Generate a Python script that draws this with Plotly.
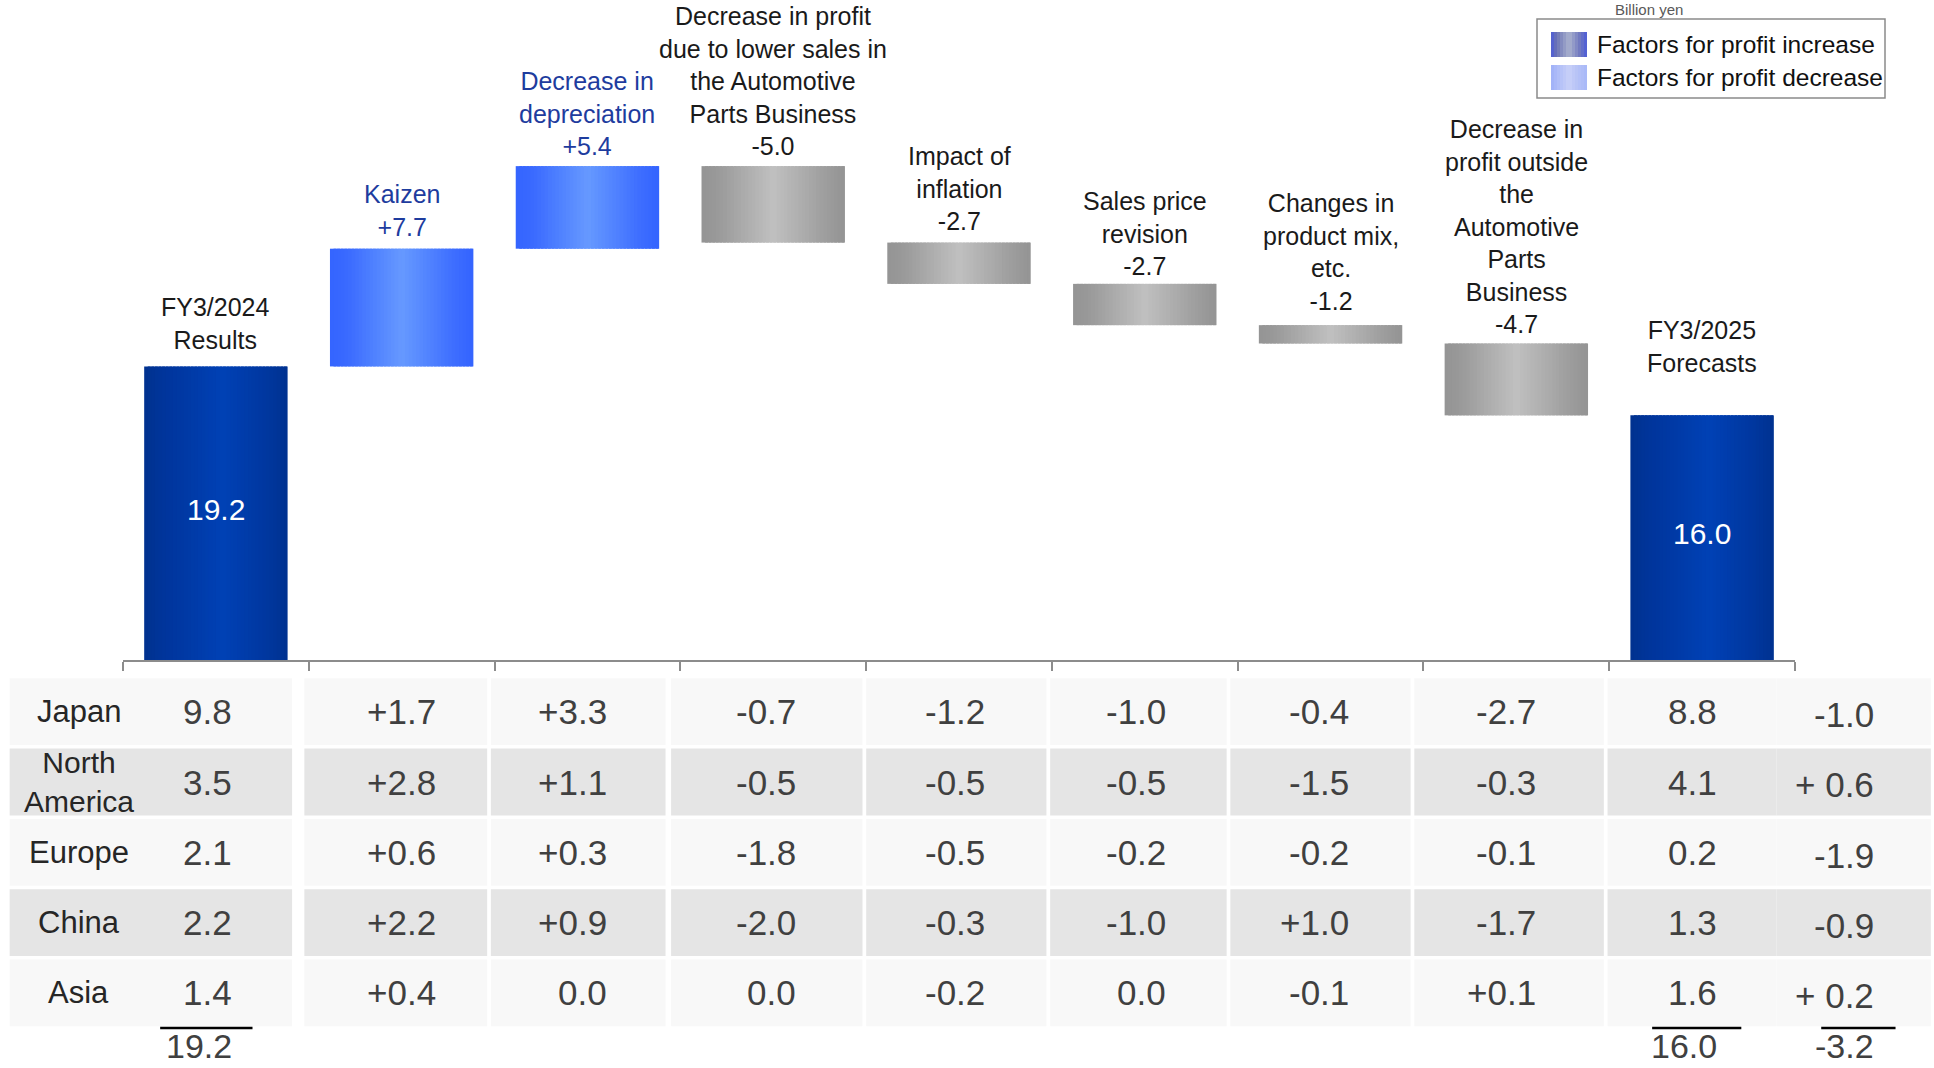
import plotly.graph_objects as go

# ---------------- data ----------------
steps = ["FY3/2024 Results", "Kaizen", "Decrease in depreciation",
         "Decrease in profit due to lower sales in the Automotive Parts Business",
         "Impact of inflation", "Sales price revision", "Changes in product mix, etc.",
         "Decrease in profit outside the Automotive Parts Business", "FY3/2025 Forecasts"]
step_labels = ["FY3/2024<br>Results", "Kaizen", "Decrease in<br>depreciation",
               "Decrease in profit<br>due to lower sales in<br>the Automotive<br>Parts Business",
               "Impact of<br>inflation", "Sales price<br>revision",
               "Changes in<br>product mix,<br>etc.",
               "Decrease in<br>profit outside<br>the<br>Automotive<br>Parts<br>Business",
               "FY3/2025<br>Forecasts"]
step_values = [19.2, 7.7, 5.4, -5.0, -2.7, -2.7, -1.2, -4.7, 16.0]
step_kind = ["total", "increase", "increase", "decrease", "decrease",
             "decrease", "decrease", "decrease", "total"]

regions = ["Japan", "North<br>America", "Europe", "China", "Asia"]
fy2024_by_region = [9.8, 3.5, 2.1, 2.2, 1.4]
kaizen_by_region = [1.7, 2.8, 0.6, 2.2, 0.4]
depreciation_by_region = [3.3, 1.1, 0.3, 0.9, 0.0]
auto_parts_by_region = [-0.7, -0.5, -1.8, -2.0, 0.0]
inflation_by_region = [-1.2, -0.5, -0.5, -0.3, -0.2]
sales_price_by_region = [-1.0, -0.5, -0.2, -1.0, 0.0]
product_mix_by_region = [-0.4, -1.5, -0.2, 1.0, -0.1]
outside_auto_by_region = [-2.7, -0.3, -0.1, -1.7, 0.1]
fy2025_by_region = [8.8, 4.1, 0.2, 1.3, 1.6]
change_by_region = [-1.0, 0.6, -1.9, -0.9, 0.2]
fy2024_total = 19.2
fy2025_total = 16.0
change_total = -3.2

# ---------------- helpers ----------------
W, H = 1934, 1068
FONT = "Liberation Sans, Arial, sans-serif"


def hex2rgb(h):
    h = h.lstrip("#")
    return tuple(int(h[i:i + 2], 16) for i in (0, 2, 4))


def interp(scale, t):
    for (p0, c0), (p1, c1) in zip(scale[:-1], scale[1:]):
        if p0 <= t <= p1:
            f = 0 if p1 == p0 else (t - p0) / (p1 - p0)
            a, b = hex2rgb(c0), hex2rgb(c1)
            return "rgb(%d,%d,%d)" % tuple(round(a[i] + (b[i] - a[i]) * f) for i in range(3))
    return scale[-1][1]


scales = {
    "total": [(0, "#00328f"), (0.15, "#00359c"), (0.55, "#0041b5"), (0.85, "#00379f"), (1, "#003290")],
    "increase": [(0, "#3464ff"), (0.12, "#3a6aff"), (0.5, "#6699ff"), (0.88, "#3c6cff"), (1, "#3464ff")],
    "decrease": [(0, "#949494"), (0.12, "#9a9a9a"), (0.5, "#c0c0c0"), (0.88, "#9c9c9c"), (1, "#949494")],
}

# waterfall geometry from values
bases, heights, tops = [], [], []
running = 0.0
for v, k in zip(step_values, step_kind):
    if k == "total":
        b, h = 0.0, v
        running = v
    else:
        b = running if v > 0 else running + v
        h = abs(v)
        running += v
    bases.append(b)
    heights.append(h)
    tops.append(b + h)

fig = go.Figure()

# gradient bars built from thin vertical bar stripes
N = 40
BW = 0.772
s = BW / N
xs = list(range(len(steps)))
for k in range(N):
    t = (k + 0.5) / N
    cols = [interp(scales[kd], t) for kd in step_kind]
    w = s if k == N - 1 else s * 1.8
    fig.add_trace(go.Bar(
        x=xs, y=heights, base=bases, width=[w] * len(xs), offset=-BW / 2 + k * s,
        marker=dict(color=cols, line=dict(width=0)),
        hoverinfo="skip", showlegend=False, xaxis="x", yaxis="y"))

annotations = []
shapes = []

# labels above bars
label_shift = [10, 6, 4, 4, 6, 2, 8, 4, 36]
for i, (lab, v, kd) in enumerate(zip(step_labels, step_values, step_kind)):
    if kd == "total":
        txt = lab
        color = "#1a1a1a"
        annotations.append(dict(x=i, y=bases[i] + heights[i] / 2, xref="x", yref="y",
                                text="%.1f" % v, showarrow=False, yshift=4,
                                font=dict(family=FONT, size=30, color="white")))
    else:
        txt = lab + "<br>" + ("%+.1f" % v)
        color = "#1e3c9e" if kd == "increase" else "#1a1a1a"
    annotations.append(dict(x=i, y=tops[i], xref="x", yref="y", text=txt, showarrow=False,
                            yanchor="bottom", yshift=label_shift[i],
                            font=dict(family=FONT, size=25, color=color)))

# ---------------- table ----------------
table_cols = [fy2024_by_region, kaizen_by_region, depreciation_by_region, auto_parts_by_region,
              inflation_by_region, sales_price_by_region, product_mix_by_region,
              outside_auto_by_region, fy2025_by_region, change_by_region]
col_kind = ["level", "delta", "delta", "delta", "delta", "delta", "delta", "delta", "level", "change"]
col_right = [0.098, 1.193, 2.116, 3.132, 4.148, 5.124, 6.107, 7.116, 8.092, 8.936]
cell_edges = [(-1.11, 0.41), (0.476, 1.46), (1.48, 2.42), (2.45, 3.48), (3.50, 4.47),
              (4.49, 5.44), (5.46, 6.43), (6.45, 7.47), (7.49, 8.40), (8.40, 9.23)]
row_fill = ["#f8f8f8", "#e5e5e5", "#f8f8f8", "#e5e5e5", "#f8f8f8"]


def fmt(v, kind):
    if kind == "level":
        return "%.1f" % v
    if kind == "change":
        return ("+ %.1f" % v) if v > 0 else ("%.1f" % v)
    if abs(v) < 1e-9:
        return "0.0"
    return "%+.1f" % v


for r in range(len(regions)):
    for (x0, x1) in cell_edges:
        shapes.append(dict(type="rect", xref="x2", yref="y2", x0=x0, x1=x1,
                           y0=r - 0.475, y1=r + 0.475, fillcolor=row_fill[r],
                           line=dict(width=0), layer="below"))
    annotations.append(dict(x=-0.739, y=r, xref="x2", yref="y2", text=regions[r],
                            showarrow=False, yanchor="middle",
                            font=dict(family=FONT, size=30 if "<br>" in regions[r] else 31,
                                      color="#262626")))
    for c, col in enumerate(table_cols):
        annotations.append(dict(x=col_right[c], y=r + (0.04 if col_kind[c] == "change" else 0),
                                xref="x2", yref="y2", xanchor="right", yanchor="middle",
                                text=fmt(col[r], col_kind[c]), showarrow=False,
                                font=dict(family=FONT, size=35, color="#404040")))

# totals
for (x0, x1), xr, val, kind in [((-0.30, 0.197), col_right[0], fy2024_total, "level"),
                                ((7.73, 8.21), col_right[8], fy2025_total, "level"),
                                ((8.64, 9.04), col_right[9], change_total, "change")]:
    shapes.append(dict(type="line", xref="x2", yref="y2", x0=x0, x1=x1, y0=4.50, y1=4.50,
                       line=dict(color="black", width=2.5)))
    annotations.append(dict(x=xr, y=4.76, xref="x2", yref="y2", xanchor="right",
                            yanchor="middle", text=fmt(val, kind), showarrow=False,
                            font=dict(family=FONT, size=34, color="#404040")))

annotations.append(dict(x=8.817, y=-0.963, xref="x2", yref="y2", text="Change",
                        showarrow=False, xanchor="center", yanchor="middle",
                        font=dict(family=FONT, size=30, color="#262626")))

# invisible anchor trace for the table axes
fig.add_trace(go.Scatter(x=[0] * len(regions), y=list(range(len(regions))), mode="markers",
                         marker=dict(opacity=0), hoverinfo="skip", showlegend=False,
                         xaxis="x2", yaxis="y2"))

# ---------------- legend (drawn) ----------------
def px(x):
    return x / W


def py(y):
    return 1 - y / H


annotations.append(dict(x=px(1649), y=1, xref="paper", yref="paper", xanchor="center",
                        yanchor="top", yshift=1, text="Billion yen", showarrow=False,
                        font=dict(family=FONT, size=15, color="#595959")))
shapes.append(dict(type="rect", xref="paper", yref="paper", x0=px(1537), x1=px(1885),
                   y0=py(19), y1=py(98), line=dict(color="#8a8a8a", width=1.5),
                   fillcolor="white"))
legend_scales = [
    [(0, "#4d5cd8"), (0.15, "#6a72b4"), (0.5, "#aab2ce"), (0.8, "#7078c0"), (1, "#4d5cd8")],
    [(0, "#9fb0f8"), (0.3, "#b8c4f8"), (0.5, "#c8d0f8"), (0.7, "#b8c4f6"), (1, "#a8b8f8")],
]
legend_text = ["Factors for profit increase", "Factors for profit decrease"]
for j, (sc, lt) in enumerate(zip(legend_scales, legend_text)):
    y0, y1 = 32 + 33 * j, 57 + 33 * j
    M = 12
    for k in range(M):
        xa = 1551 + 36 * k / M
        xb = 1551 + 36 * (k + 1) / M + (0.5 if k < M - 1 else 0)
        shapes.append(dict(type="rect", xref="paper", yref="paper", x0=px(xa), x1=px(xb),
                           y0=py(y0), y1=py(y1), fillcolor=interp(sc, (k + 0.5) / M),
                           line=dict(width=0)))
    annotations.append(dict(x=px(1595), y=py((y0 + y1) / 2), xref="paper", yref="paper",
                            xanchor="left", yanchor="middle", text=lt, showarrow=False,
                            font=dict(family=FONT, size=24.5, color="#111111")))

# ---------------- layout ----------------
y_split = (H - 660) / H
fig.update_layout(
    width=W, height=H, margin=dict(l=0, r=0, t=0, b=0),
    paper_bgcolor="white", plot_bgcolor="rgba(0,0,0,0)",
    barmode="overlay", showlegend=False,
    xaxis=dict(domain=[123 / W, 1795 / W], range=[-0.5, 8.5], anchor="y",
               tickvals=[i - 0.5 for i in range(len(steps) + 1)], ticks="outside",
               ticklen=9, tickwidth=2, tickcolor="#8c8c8c", showticklabels=False,
               showline=True, linecolor="#8c8c8c", linewidth=2,
               showgrid=False, zeroline=False, fixedrange=True),
    yaxis=dict(domain=[y_split, 1], range=[0, 660 / 15.29], visible=False,
               showgrid=False, zeroline=False, anchor="x"),
    xaxis2=dict(domain=[0, 1], range=[-1.162, 9.247], anchor="y2", visible=False,
                showgrid=False, zeroline=False),
    yaxis2=dict(domain=[0, y_split], range=[(H - 711.7) / 70.3, (660 - 711.7) / 70.3],
                anchor="x2", visible=False, showgrid=False, zeroline=False),
    annotations=annotations, shapes=shapes,
)

fig.write_html("out.html")
